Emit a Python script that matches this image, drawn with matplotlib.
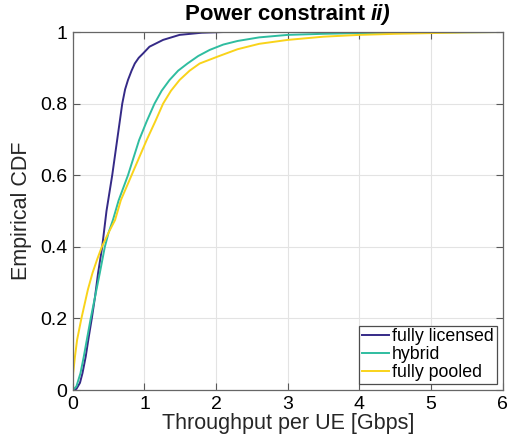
"""Empirical CDF of throughput per UE, power constraint ii)"""

import matplotlib
matplotlib.use("Agg")
from matplotlib import pyplot as plt

plt.rcParams['font.family'] = ['Liberation Sans', 'DejaVu Sans']

# Fully licensed (x in Gbps, CDF)
licensed_x = [0, 0.05, 0.10, 0.135, 0.18, 0.22, 0.265, 0.31, 0.353, 0.41,
              0.47, 0.55, 0.62, 0.69, 0.73, 0.77, 0.82, 0.865, 0.92, 0.98,
              1.07, 1.26, 1.49, 1.8, 2.1, 6.0]
licensed_y = [0, 0.003, 0.02, 0.047, 0.093, 0.145, 0.20, 0.26, 0.327, 0.40,
              0.50, 0.60, 0.70, 0.80, 0.84, 0.866, 0.892, 0.912, 0.928, 0.94,
              0.959, 0.978, 0.992, 0.998, 1.0, 1.0]

# Hybrid
hybrid_x = [0, 0.05, 0.107, 0.153, 0.20, 0.25, 0.31, 0.377, 0.447, 0.50,
            0.56, 0.64, 0.77, 0.925, 1.03, 1.14, 1.24, 1.35, 1.47, 1.60,
            1.75, 1.91, 2.1, 2.3, 2.6, 3.0, 3.5, 4.0, 5.0, 6.0]
hybrid_y = [0, 0.01, 0.047, 0.093, 0.145, 0.20, 0.26, 0.327, 0.40, 0.44,
            0.475, 0.53, 0.60, 0.698, 0.75, 0.80, 0.836, 0.866, 0.892, 0.912,
            0.933, 0.95, 0.965, 0.975, 0.985, 0.992, 0.995, 0.997, 0.999, 1.0]

# Fully pooled
pooled_x = [0, 0.001, 0.005, 0.03, 0.06, 0.12, 0.21, 0.275, 0.34, 0.405,
            0.50, 0.59, 0.67, 0.82, 1.03, 1.15, 1.26, 1.37, 1.49, 1.63,
            1.77, 2.03, 2.3, 2.6, 3.0, 3.5, 4.0, 4.5, 5.0, 5.5, 6.0]
pooled_y = [0, 0.02, 0.047, 0.093, 0.14, 0.20, 0.28, 0.327, 0.365, 0.40,
            0.44, 0.475, 0.53, 0.60, 0.698, 0.75, 0.80, 0.836, 0.866, 0.892,
            0.912, 0.932, 0.952, 0.967, 0.978, 0.987, 0.992, 0.995, 0.997,
            0.999, 1.0]

labels = ['fully licensed', 'hybrid', 'fully pooled']
colors = ['#352a87', '#2fbda0', '#f9d31a']

x_ticks = [0, 1, 2, 3, 4, 5, 6]
y_ticks = [0, 0.2, 0.4, 0.6, 0.8, 1]
y_tick_labels = ['0', '0.2', '0.4', '0.6', '0.8', '1']

fig = plt.figure(figsize=(5.2, 4.44), dpi=100)
ax = fig.add_axes([0.140, 0.1216, 0.827, 0.8063])

# Plot the three curves
for xs, ys, lab, col in zip((licensed_x, hybrid_x, pooled_x),
                            (licensed_y, hybrid_y, pooled_y),
                            labels, colors):
    ax.plot(xs, ys, color=col, lw=1.4, label=lab)

# Axis limits and ticks
ax.set_xlim(0, 6)
ax.set_ylim(0, 1)
ax.set_xticks(x_ticks)
ax.set_yticks(y_ticks)
ax.set_yticklabels(y_tick_labels)
ax.tick_params(axis='both', which='both', direction='in', length=5,
               width=0.8, color='0.35', labelsize=14, top=True, right=True,
               pad=4)

# Light grid, gray frame
ax.grid(True, color='#e3e3e3', lw=0.8)
ax.set_axisbelow(True)
for side in ax.spines.values():
    side.set_color('0.4')
    side.set_linewidth(0.9)

ax.set_xlabel('Throughput per UE [Gbps]', fontsize=15.5, color='0.15',
              labelpad=0)
ax.set_ylabel('Empirical CDF', fontsize=15.5, color='0.15', labelpad=6)

# Title: plain bold part then bold italic part
t1 = ax.text(0.26, 1.034, 'Power constraint ', transform=ax.transAxes,
             fontsize=16, fontweight='bold', va='baseline', ha='left')
ax.annotate('ii)', xy=(1, 0), xycoords=t1, fontsize=16, fontweight='bold',
            style='italic', va='bottom', ha='left')

leg = ax.legend(loc='lower right', fontsize=12.8, handlelength=1.5,
                handletextpad=0.2, borderpad=0.15, labelspacing=0.05,
                borderaxespad=0.35, fancybox=False, framealpha=1)
leg.get_frame().set_edgecolor('0.3')
leg.get_frame().set_linewidth(0.9)

fig.savefig('out.png', dpi=100)
